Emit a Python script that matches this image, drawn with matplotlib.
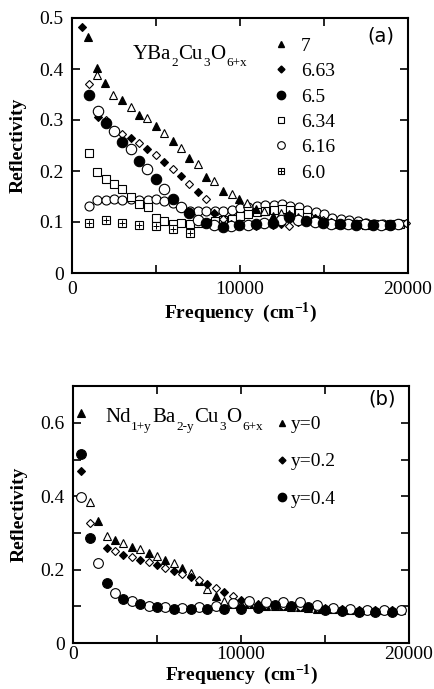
import matplotlib.pyplot as plt
import numpy as np
from matplotlib.lines import Line2D
from matplotlib.ticker import MultipleLocator

plt.rcParams['font.family'] = ['Liberation Serif', 'DejaVu Serif']
plt.rcParams['mathtext.fontset'] = 'custom'
plt.rcParams['mathtext.rm'] = 'Liberation Serif'
plt.rcParams['mathtext.it'] = 'Liberation Serif'
plt.rcParams['mathtext.bf'] = 'Liberation Serif:bold'

# ---------------- panel (a): YBa2Cu3O6+x ----------------
f7_fill = [970, 1510, 1960, 2960, 3990, 5000, 5990, 6980, 7980, 9010, 9960, 10950,
           11950, 12940, 13940, 14930, 15930, 16920, 17920, 18910]
r7_fill = [0.463, 0.401, 0.372, 0.339, 0.310, 0.288, 0.259, 0.225, 0.188, 0.161, 0.145, 0.125,
           0.112, 0.115, 0.104, 0.100, 0.097, 0.096, 0.097, 0.096]
f7_open = [1510, 2460, 3490, 4480, 5500, 6470, 7480, 8470, 9510, 10440, 11450, 12450,
           13440, 14440, 15430, 16420, 17420, 18420, 19400]
r7_open = [0.388, 0.349, 0.326, 0.303, 0.275, 0.246, 0.213, 0.180, 0.154, 0.137, 0.122, 0.118,
           0.110, 0.103, 0.100, 0.098, 0.097, 0.097, 0.098]

f663_fill = [580, 1530, 2500, 3490, 4480, 5500, 6490, 7480, 8470, 9460, 10450, 11450,
             12450, 13440, 14440, 15430, 16420, 17420, 18420, 19400]
r663_fill = [0.483, 0.306, 0.280, 0.265, 0.244, 0.218, 0.191, 0.158, 0.118, 0.097, 0.094, 0.096,
             0.097, 0.100, 0.108, 0.100, 0.097, 0.096, 0.097, 0.097]
f663_open = [1010, 2000, 2990, 3990, 5000, 5990, 6980, 7980, 8970, 9960, 10950, 11950,
             12940, 13940, 14930, 15930, 16920, 17920, 18910, 19900]
r663_open = [0.370, 0.300, 0.272, 0.254, 0.231, 0.203, 0.175, 0.145, 0.105, 0.094, 0.092, 0.095,
             0.093, 0.104, 0.104, 0.098, 0.097, 0.096, 0.097, 0.098]

f65_fill = [1010, 2000, 2990, 3990, 5000, 5990, 6980, 7980, 8970, 9960, 10950, 11950,
            12940, 13940, 14930, 15930, 16920, 17920, 18910]
r65_fill = [0.349, 0.295, 0.257, 0.220, 0.184, 0.146, 0.117, 0.099, 0.090, 0.094, 0.097, 0.099,
            0.110, 0.102, 0.098, 0.096, 0.095, 0.094, 0.095]
f65_open = [1530, 2500, 3490, 4480, 5500, 6490, 7480, 8470, 9460, 10450, 11450, 12450,
            13440, 14440, 15430, 16420, 17420, 18420, 19400]
r65_open = [0.318, 0.278, 0.243, 0.203, 0.165, 0.129, 0.104, 0.095, 0.093, 0.095, 0.098, 0.104,
            0.104, 0.100, 0.097, 0.096, 0.096, 0.095, 0.096]

f_half = [1000, 1500, 2000, 2500, 3000, 3500, 4000, 4500, 5000, 5500, 6000, 6500, 7000,
          7500, 8000, 8500, 9000, 9500, 10000, 10500, 11000, 11500, 12000, 12500, 13000,
          13500, 14000, 14500, 15000, 15500, 16000, 16500, 17000, 17500, 18000, 18500,
          19000, 19500]
r634 = [0.235, 0.199, 0.184, 0.175, 0.165, 0.150, 0.135, 0.129, 0.107, 0.101, 0.096, 0.099, 0.096,
        0.099, 0.099, 0.101, 0.104, 0.105, 0.112, 0.116, 0.120, 0.122, 0.124, 0.125, 0.123,
        0.118, 0.109, 0.101, 0.098, 0.097, 0.097, 0.096, 0.096, 0.095, 0.096, 0.095,
        0.096, 0.096]
r616 = [0.131, 0.143, 0.144, 0.145, 0.143, 0.145, 0.143, 0.143, 0.145, 0.142, 0.137, 0.130, 0.122,
        0.122, 0.122, 0.122, 0.122, 0.124, 0.127, 0.130, 0.131, 0.133, 0.133, 0.135, 0.132,
        0.130, 0.124, 0.120, 0.116, 0.108, 0.106, 0.103, 0.101, 0.099, 0.097, 0.097,
        0.095, 0.097]

f60 = [1000, 2000, 3000, 4000, 5000, 6000, 7000]
r60 = [0.099, 0.103, 0.099, 0.095, 0.093, 0.086, 0.078]

# ---------------- panel (b): Nd1+yBa2-yCu3O6+x ----------------
fy0_fill = [500, 1500, 2500, 3500, 4500, 5500, 6500, 7500, 8500, 9500, 10500, 11500,
            12500, 13500, 14500, 15500, 16500, 17500, 18500, 19500]
ry0_fill = [0.627, 0.333, 0.280, 0.262, 0.245, 0.227, 0.205, 0.168, 0.128, 0.107, 0.105, 0.102,
            0.100, 0.097, 0.093, 0.092, 0.090, 0.090, 0.089, 0.090]
fy0_open = [1000, 2000, 3000, 4000, 5000, 6000, 7000, 8000, 9000, 10000, 11000, 12000,
            13000, 14000, 15000, 16000, 17000, 18000, 19000]
ry0_open = [0.384, 0.292, 0.272, 0.255, 0.237, 0.218, 0.190, 0.148, 0.115, 0.107, 0.104, 0.100,
            0.098, 0.095, 0.093, 0.092, 0.091, 0.090, 0.090]

fy2_fill = [500, 2000, 3000, 4000, 5000, 6000, 7000, 8000, 9000, 10000, 11000, 12000,
            13000, 14000, 15000, 16000, 17000, 18000, 19000]
ry2_fill = [0.469, 0.260, 0.240, 0.226, 0.213, 0.196, 0.180, 0.160, 0.139, 0.117, 0.105, 0.103,
            0.100, 0.097, 0.095, 0.093, 0.091, 0.090, 0.089]
fy2_open = [1000, 2500, 3500, 4500, 5500, 6500, 7500, 8500, 9500, 10500, 11500, 12500,
            13500, 14500, 15500, 16500, 17500, 18500, 19500]
ry2_open = [0.327, 0.250, 0.235, 0.220, 0.205, 0.188, 0.172, 0.150, 0.128, 0.106, 0.104, 0.102,
            0.099, 0.096, 0.094, 0.092, 0.091, 0.090, 0.090]

fy4_fill = [500, 1000, 2000, 3000, 4000, 5000, 6000, 7000, 8000, 9000, 10000, 11000,
            12000, 13000, 14000, 15000, 16000, 17000, 18000, 19000]
ry4_fill = [0.515, 0.286, 0.164, 0.120, 0.105, 0.097, 0.093, 0.093, 0.094, 0.093, 0.092, 0.095,
            0.104, 0.100, 0.097, 0.090, 0.088, 0.085, 0.085, 0.085]
fy4_open = [500, 1500, 2500, 3500, 4500, 5500, 6500, 7500, 8500, 9500, 10500, 11500,
            12500, 13500, 14500, 15500, 16500, 17500, 18500, 19500]
ry4_open = [0.398, 0.218, 0.136, 0.115, 0.102, 0.097, 0.095, 0.097, 0.100, 0.110, 0.115, 0.112,
            0.113, 0.113, 0.104, 0.095, 0.092, 0.090, 0.090, 0.090]

legend_a = ["7", "6.63", "6.5", "6.34", "6.16", "6.0"]
legend_b = ["y=0", "y=0.2", "y=0.4"]
formula_a = [("YBa", 0), ("2", 1), ("Cu", 0), ("3", 1), ("O", 0), ("6+x", 1)]
formula_b = [("Nd", 0), ("1+y", 1), ("Ba", 0), ("2-y", 1), ("Cu", 0), ("3", 1), ("O", 0), ("6+x", 1)]

fig = plt.figure(figsize=(4.35, 6.89), dpi=100)
ax1 = fig.add_axes([72/435, 1-273/689, 336/435, 255/689])
ax2 = fig.add_axes([73/435, 1-643/689, 336/435, 256.7/689])

mew = 0.8
def filled(ax, x, y, m, ms):
    ax.plot(x, y, m, ls='none', color='k', ms=ms, mew=mew, clip_on=False)
def hollow(ax, x, y, m, ms):
    ax.plot(x, y, m, ls='none', mfc='white', mec='k', ms=ms, mew=mew, clip_on=False)

# panel (a)
hollow(ax1, f_half, r616, 'o', 6.5)
hollow(ax1, f_half, r634, 's', 5.5)
hollow(ax1, f60, r60, 's', 5.5)
ax1.plot(f60, r60, '+', color='k', ms=5, mew=0.7, ls='none')
hollow(ax1, f7_open, r7_open, '^', 6)
filled(ax1, f7_fill, r7_fill, '^', 6)
hollow(ax1, f663_open, r663_open, 'D', 4.5)
filled(ax1, f663_fill, r663_fill, 'D', 4.5)
hollow(ax1, f65_open, r65_open, 'o', 7.5)
filled(ax1, f65_fill, r65_fill, 'o', 7.5)

# panel (b)
hollow(ax2, fy0_open, ry0_open, '^', 6)
filled(ax2, fy0_fill, ry0_fill, '^', 6)
hollow(ax2, fy2_open, ry2_open, 'D', 4.5)
filled(ax2, fy2_fill, ry2_fill, 'D', 4.5)
hollow(ax2, fy4_open, ry4_open, 'o', 7)
filled(ax2, fy4_fill, ry4_fill, 'o', 7)

def leg_h(m, ms, fill=True):
    if fill:
        return Line2D([], [], marker=m, ls='none', color='k', ms=ms)
    return Line2D([], [], marker=m, ls='none', mfc='white', mec='k', ms=ms, mew=0.8)

h_a = [leg_h('^', 5), leg_h('D', 3.5), leg_h('o', 6), leg_h('s', 5, False),
       leg_h('o', 5.5, False),
       (leg_h('s', 5, False), Line2D([], [], marker='+', ls='none', color='k', ms=4.5, mew=0.7))]
ax1.legend(h_a, legend_a, loc='upper left', bbox_to_anchor=(0.592, 0.925), frameon=False,
           fontsize=14, handlelength=1.0, handletextpad=0.53, labelspacing=0.4,
           borderaxespad=0, borderpad=0)

h_b = [leg_h('^', 5), leg_h('D', 3.5), leg_h('o', 6)]
ax2.legend(h_b, legend_b, loc='upper left', bbox_to_anchor=(0.604, 0.885), frameon=False,
           fontsize=14, handlelength=0.6, handletextpad=0.17, labelspacing=1.0,
           borderaxespad=0, borderpad=0)

def formula(ax, x, y, parts, size, sub_size, drop):
    first = ax.text(x, y, parts[0][0], transform=ax.transAxes, fontsize=size, va='bottom')
    prev = first
    for txt, sub in parts[1:]:
        prev = ax.annotate(txt, xy=(1, 0), xycoords=(prev, first),
                           xytext=(0.5 if sub else 0.3, -drop if sub else 0),
                           textcoords='offset points', va='bottom',
                           fontsize=sub_size if sub else size)

formula(ax1, 0.18, 0.82, formula_a, 15, 9.5, 4)
formula(ax2, 0.095, 0.84, formula_b, 15, 9.5, 4)

ax1.text(0.92, 0.93, "(a)", transform=ax1.transAxes, fontsize=14, family='DejaVu Sans',
         ha='center', va='center')
ax2.text(0.92, 0.95, "(b)", transform=ax2.transAxes, fontsize=14, family='DejaVu Sans',
         ha='center', va='center')

for ax, pad, lp in ((ax1, 6, 2), (ax2, 2, 0)):
    ax.set_xlim(0, 20000)
    ax.set_xticks([0, 10000, 20000])
    ax.xaxis.set_minor_locator(MultipleLocator(5000))
    ax.tick_params(which='both', direction='in', top=True, right=True, labelsize=14, width=1.2)
    ax.tick_params(axis='x', pad=pad)
    ax.tick_params(axis='y', pad=6)
    ax.tick_params(which='major', length=6)
    ax.tick_params(which='minor', length=6)
    for s in ax.spines.values():
        s.set_linewidth(1.5)
    ax.set_xlabel("Frequency  (cm$^{\\mathbf{-1}}$)", fontsize=14, fontweight='bold', labelpad=lp)
    ax.set_ylabel("Reflectivity", fontsize=14, fontweight='bold', labelpad=9)

ax1.set_ylim(0, 0.5)
ax1.set_yticks([0, 0.1, 0.2, 0.3, 0.4, 0.5])
ax1.set_yticklabels(["0", "0.1", "0.2", "0.3", "0.4", "0.5"])
ax2.set_ylim(0, 0.7)
ax2.set_yticks([0, 0.2, 0.4, 0.6])
ax2.set_yticklabels(["0", "0.2", "0.4", "0.6"])
ax2.yaxis.set_minor_locator(MultipleLocator(0.1))

fig.savefig("out.png", dpi=100)
